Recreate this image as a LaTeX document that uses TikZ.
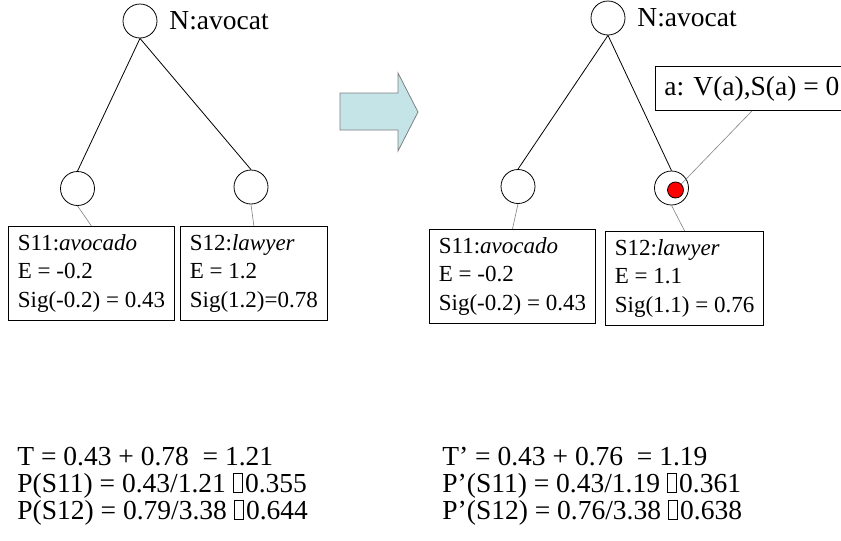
\documentclass[tikz,border=0pt]{standalone}
\usepackage{fontspec}
\setmainfont{Liberation Serif}
\newcommand{\nobox}{{\fboxsep=0pt\fboxrule=0.45pt\fbox{\rule{0pt}{0.66em}\hspace{0.3em}}}\kern0.08em}
\usetikzlibrary{positioning}
\definecolor{arrowfill}{RGB}{197,228,232}

\begin{document}
\begin{tikzpicture}[x=0.5pt,y=-0.5pt,
  link/.style={draw=gray,line width=0.3pt}]
  \tikzstyle{vertex} = [circle,draw,minimum size=17pt,inner sep=0pt]
  \tikzstyle{sense} = [draw,align=left,anchor=north west,inner xsep=4.75pt,inner ysep=4pt,font=\fontsize{11.5}{14.25}\selectfont]
  \tikzstyle{word} = [font=\fontsize{13.75}{13.4}\selectfont]
  \useasboundingbox (0,0) rectangle (841,541);
  \node (L_root) [vertex] at (140,21) {};
  \node (L_lbl) [word,right=2.5pt of L_root] {N:avocat};
  \node (L_1) [vertex] at (77.5,188.5) {};
  \node (L_2) [vertex] at (251,187) {};
  \node (L_b1) [sense] at (8,226) {S11:\textit{avocado}\\E = -0.2\\Sig(-0.2) = 0.43};
  \node (L_b2) [sense] at (180,226) {S12:\textit{lawyer}\\E = 1.2\\Sig(1.2)=0.78};
  \draw (L_root.south) -- (L_1.north);
  \draw (L_root.south) -- (L_2.north);
  \draw[link] (L_1.south) -- (L_b1.north);
  \draw[link] (L_2.south) -- (L_b2.north);

  \draw[draw=gray,fill=arrowfill] (340,93) -- (398,93) -- (398,73) -- (418,112)
    -- (398,151) -- (398,130) -- (340,130) -- cycle;

  \node (R_root) [vertex] at (608,18) {};
  \node (R_lbl) [word,right=2.5pt of R_root] {N:avocat};
  \node (R_1) [vertex] at (518,186.5) {};
  \node (R_2) [vertex] at (671.5,188) {};
  \node (R_dot) [circle,draw,fill=red,minimum size=8pt,inner sep=0pt] at (675.5,190) {};
  \node (R_b1) [sense] at (429,229) {S11:\textit{avocado}\\E = -0.2\\Sig(-0.2) = 0.43};
  \node (R_b2) [sense] at (605,231) {S12:\textit{lawyer}\\E = 1.1\\Sig(1.1) = 0.76};
  \node (R_note) [word,draw,anchor=north west,inner xsep=4.5pt,inner ysep=4.8pt] at (655,66) {a: V(a),S(a) = 0};
  \draw (R_root.south) -- (R_1.north);
  \draw (R_root.south) -- (R_2.north);
  \draw[link] (R_1.south) -- (R_b1.north);
  \draw[link] (R_2.south) -- (R_b2.north);
  \draw[link] (R_note.south) -- (R_dot);

  \node (L_sum) [word,align=left,anchor=north west,inner sep=0pt] at (17,447)
    {T = 0.43 + 0.78\ \ = 1.21\\P(S11) = 0.43/1.21 \nobox0.355\\P(S12) = 0.79/3.38 \nobox0.644};
  \node (R_sum) [word,align=left,anchor=north west,inner sep=0pt] at (442,447)
    {T’ = 0.43 + 0.76\ \ = 1.19\\P’(S11) = 0.43/1.19 \nobox0.361\\P’(S12) = 0.76/3.38 \nobox0.638};
\end{tikzpicture}
\end{document}
